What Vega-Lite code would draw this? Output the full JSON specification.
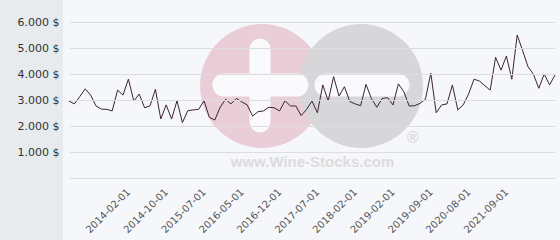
{
  "$schema": "https://vega.github.io/schema/vega-lite/v6.json",
  "width": 486,
  "height": 156,
  "autosize": {"type": "none"},
  "padding": {"left": 69, "top": 22, "right": 5, "bottom": 62},
  "background": "#f6f7fa",
  "config": {
    "view": {"stroke": null},
    "font": "DejaVu Sans",
    "axisY": {
      "domain": false,
      "ticks": false,
      "labelPadding": 10,
      "labelFontSize": 11,
      "labelColor": "#333333",
      "labelFont": "DejaVu Sans",
      "labelOverlap": false,
      "gridColor": "#dcdde0",
      "gridOpacity": 1,
      "grid": true,
      "title": null
    },
    "axisX": {
      "grid": false,
      "domain": false,
      "ticks": false,
      "labelAngle": -45,
      "labelAlign": "right",
      "labelBaseline": "middle",
      "labelOverlap": false,
      "labelFontSize": 10,
      "labelColor": "#555555",
      "labelPadding": 12,
      "labelFont": "DejaVu Sans",
      "title": null
    }
  },
  "data": {
    "values": [
      {"i": 0, "price": 2960}, {"i": 1, "price": 2850}, {"i": 2, "price": 3130}, {"i": 3, "price": 3430},
      {"i": 4, "price": 3190}, {"i": 5, "price": 2770}, {"i": 6, "price": 2650}, {"i": 7, "price": 2640},
      {"i": 8, "price": 2580}, {"i": 9, "price": 3380}, {"i": 10, "price": 3190}, {"i": 11, "price": 3800},
      {"i": 12, "price": 2960}, {"i": 13, "price": 3230}, {"i": 14, "price": 2700}, {"i": 15, "price": 2780},
      {"i": 16, "price": 3410}, {"i": 17, "price": 2270}, {"i": 18, "price": 2810}, {"i": 19, "price": 2270},
      {"i": 20, "price": 2970}, {"i": 21, "price": 2130}, {"i": 22, "price": 2590}, {"i": 23, "price": 2620},
      {"i": 24, "price": 2640}, {"i": 25, "price": 2970}, {"i": 26, "price": 2330}, {"i": 27, "price": 2230},
      {"i": 28, "price": 2720}, {"i": 29, "price": 3030}, {"i": 30, "price": 2850}, {"i": 31, "price": 3060},
      {"i": 32, "price": 2930}, {"i": 33, "price": 2810}, {"i": 34, "price": 2380}, {"i": 35, "price": 2550},
      {"i": 36, "price": 2580}, {"i": 37, "price": 2720}, {"i": 38, "price": 2700}, {"i": 39, "price": 2580},
      {"i": 40, "price": 2970}, {"i": 41, "price": 2770}, {"i": 42, "price": 2770}, {"i": 43, "price": 2400},
      {"i": 44, "price": 2640}, {"i": 45, "price": 2960}, {"i": 46, "price": 2510}, {"i": 47, "price": 3580},
      {"i": 48, "price": 2960}, {"i": 49, "price": 3900}, {"i": 50, "price": 3150}, {"i": 51, "price": 3510},
      {"i": 52, "price": 2940}, {"i": 53, "price": 2850}, {"i": 54, "price": 2780}, {"i": 55, "price": 3600},
      {"i": 56, "price": 3060}, {"i": 57, "price": 2720}, {"i": 58, "price": 3060}, {"i": 59, "price": 3090},
      {"i": 60, "price": 2810}, {"i": 61, "price": 3620}, {"i": 62, "price": 3320}, {"i": 63, "price": 2770},
      {"i": 64, "price": 2780}, {"i": 65, "price": 2870}, {"i": 66, "price": 3030}, {"i": 67, "price": 4030},
      {"i": 68, "price": 2510}, {"i": 69, "price": 2810}, {"i": 70, "price": 2850}, {"i": 71, "price": 3580},
      {"i": 72, "price": 2620}, {"i": 73, "price": 2810}, {"i": 74, "price": 3230}, {"i": 75, "price": 3800},
      {"i": 76, "price": 3730}, {"i": 77, "price": 3550}, {"i": 78, "price": 3380}, {"i": 79, "price": 4640},
      {"i": 80, "price": 4150}, {"i": 81, "price": 4690}, {"i": 82, "price": 3800}, {"i": 83, "price": 5500},
      {"i": 84, "price": 4900}, {"i": 85, "price": 4280}, {"i": 86, "price": 3990}, {"i": 87, "price": 3450},
      {"i": 88, "price": 4000}, {"i": 89, "price": 3580}, {"i": 90, "price": 3960}
    ]
  },
  "layer": [
    {
      "data": {"values": [{}]},
      "mark": {"type": "rect", "color": "#e7ebee"},
      "encoding": {
        "x": {"datum": -13.5, "type": "quantitative", "scale": {"domain": [0, 90], "nice": false, "zero": false}},
        "x2": {"datum": -1.1},
        "y": {"datum": 6900, "type": "quantitative", "scale": {"domain": [0, 6000], "nice": false}},
        "y2": {"datum": -2450}
      }
    },
    {
      "data": {"values": [{}]},
      "mark": {"type": "point", "shape": "circle", "filled": true, "opacity": 0.75, "size": 15376, "color": "#e6c0cb"},
      "encoding": {
        "x": {"datum": 35.74, "type": "quantitative"},
        "y": {"datum": 3538, "type": "quantitative"}
      }
    },
    {
      "data": {"values": [{}]},
      "mark": {"type": "point", "shape": "circle", "filled": true, "opacity": 1, "size": 15376, "color": "#d7d7da"},
      "encoding": {
        "x": {"datum": 54.07, "type": "quantitative"},
        "y": {"datum": 3538, "type": "quantitative"}
      }
    },
    {
      "data": {"values": [{}]},
      "mark": {"type": "rule", "strokeWidth": 23, "strokeCap": "round", "color": "#fafafc"},
      "encoding": {
        "x": {"datum": 28.7, "type": "quantitative"},
        "x2": {"datum": 42.2},
        "y": {"datum": 3577, "type": "quantitative"}
      }
    },
    {
      "data": {"values": [{}]},
      "mark": {"type": "rule", "strokeWidth": 21, "strokeCap": "round", "color": "#fafafc"},
      "encoding": {
        "x": {"datum": 35.37, "type": "quantitative"},
        "y": {"datum": 4962, "type": "quantitative"},
        "y2": {"datum": 2154}
      }
    },
    {
      "data": {"values": [{}]},
      "mark": {"type": "rule", "strokeWidth": 23, "strokeCap": "round", "color": "#fafafc"},
      "encoding": {
        "x": {"datum": 47.6, "type": "quantitative"},
        "x2": {"datum": 60.9},
        "y": {"datum": 3577, "type": "quantitative"}
      }
    },
    {
      "data": {"values": [{"t": "www.Wine-Stocks.com"}]},
      "mark": {"type": "text", "font": "Liberation Sans", "fontWeight": "bold", "fontSize": 15, "color": "#dcdcde", "baseline": "middle", "align": "center"},
      "encoding": {
        "x": {"datum": 45.1, "type": "quantitative"},
        "y": {"datum": 615, "type": "quantitative"},
        "text": {"field": "t"}
      }
    },
    {
      "data": {"values": [{"t": "®"}]},
      "mark": {"type": "text", "font": "Liberation Sans", "fontWeight": "bold", "fontSize": 16, "color": "#d9d9dc", "baseline": "middle", "align": "center"},
      "encoding": {
        "x": {"datum": 63.7, "type": "quantitative"},
        "y": {"datum": 1538, "type": "quantitative"},
        "text": {"field": "t"}
      }
    },
    {
      "mark": {"type": "line", "color": "#3d2331", "strokeWidth": 1},
      "encoding": {
        "x": {
          "field": "i",
          "type": "quantitative",
          "axis": {
            "values": [11, 18, 25, 32, 39, 46, 53, 60, 67, 74, 81],
            "labelExpr": "['2014-02-01','2014-10-01','2015-07-01','2016-05-01','2016-12-01','2017-07-01','2018-02-01','2019-02-01','2019-09-01','2020-08-01','2021-09-01'][(datum.value-11)/7]"
          }
        },
        "y": {
          "field": "price",
          "type": "quantitative",
          "axis": {
            "values": [0, 1000, 2000, 3000, 4000, 5000, 6000],
            "tickCount": 7,
            "zindex": 1,
            "labelExpr": "datum.value == 0 ? '' : replace(format(datum.value, ','), ',', '.') + ' $'"
          }
        }
      }
    }
  ]
}
